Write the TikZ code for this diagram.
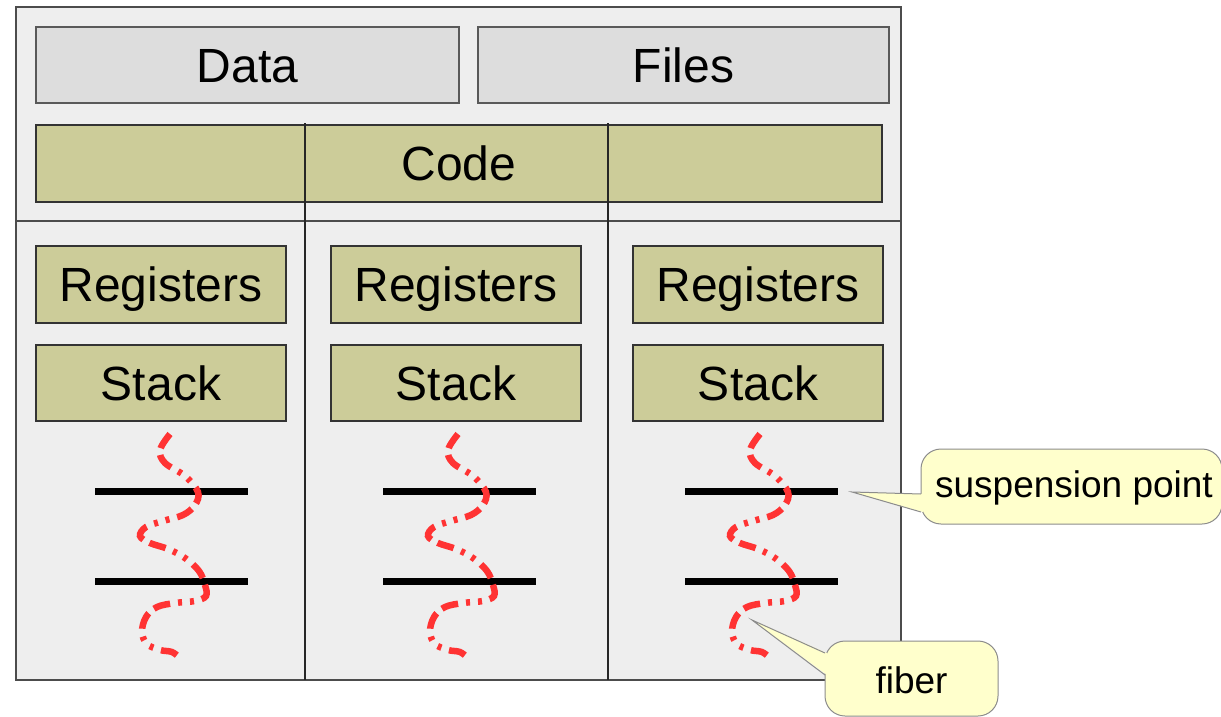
\documentclass[tikz,border=0pt]{standalone}
\usepackage{fontspec}
\setmainfont{Liberation Sans}
\definecolor{procbg}{HTML}{EEEEEE}
\definecolor{sharedbg}{HTML}{DDDDDD}
\definecolor{olivebg}{HTML}{CCCC99}
\definecolor{notebg}{HTML}{FFFFCC}
\definecolor{fiberred}{HTML}{FF3333}
\begin{document}
\begin{tikzpicture}[x=1pt,y=-1pt,
  bigtext/.style={font=\fontsize{48}{57}\selectfont,text height=34.4pt,text depth=0pt},
  smalltext/.style={font=\fontsize{37}{44}\selectfont},
  sharedbox/.style={draw=black!65,line width=1.2pt,fill=sharedbg,inner sep=0pt,bigtext},
  olivebox/.style={draw=black!80,line width=1.2pt,fill=olivebg,inner sep=0pt,bigtext},
  thinline/.style={draw=black!70,line width=1.2pt},
  bar/.style={line width=7pt,black},
  fiberline/.style={fiberred,line width=6.5pt,
    dash pattern=on 17pt off 7pt on 17pt off 8pt on 4pt off 8pt on 4pt off 8pt},
  note/.style={draw=black!45,line width=1pt,fill=notebg,rounded corners=20pt,
    inner sep=0pt,smalltext},
  notetail/.style={draw=black!45,line width=1pt},
]
\useasboundingbox (0,0) rectangle (1221,717);

% process area
\node[draw=black!70,line width=1.2pt,fill=procbg,minimum width=885pt,minimum height=673pt,inner sep=0pt]
  (proc) at (458.5,343.5) {};

% shared resources
\node[sharedbox,minimum width=423pt,minimum height=76pt] (data)  at (247.5,65) {Data};
\node[sharedbox,minimum width=411pt,minimum height=76pt] (files) at (683.5,65) {Files};
\node[olivebox,minimum width=846pt,minimum height=77pt] (code) at (459,163.5) {Code};

% separators between threads
\coordinate (sepL) at (16,221);
\coordinate (sepR) at (901,221);
\draw[thinline] (sepL) -- (sepR);
\coordinate (c1top) at (305,123);
\coordinate (c1bot) at (305,680);
\coordinate (c2top) at (608,123);
\coordinate (c2bot) at (608,680);
\draw[thinline,black!85] (c1top) -- (c1bot);
\draw[thinline,black!85] (c2top) -- (c2bot);

% per-thread registers, stack and fiber
\foreach \i/\dx in {1/0,2/295,3/597}{
  \node[olivebox,minimum width=250pt,minimum height=77pt] (reg\i) at (161+\dx,284.5) {Registers};
  \node[olivebox,minimum width=250pt,minimum height=76pt] (stack\i) at (161+\dx,383) {Stack};
}
\foreach \i/\dx in {1/0,2/288,3/590}{
  \begin{scope}[xshift=\dx]
    \coordinate (barA\i w) at (95,491);
    \coordinate (barA\i e) at (248,491);
    \coordinate (barB\i w) at (95,581);
    \coordinate (barB\i e) at (248,581);
    \draw[bar] (barA\i w) -- (barA\i e);
    \draw[bar] (barB\i w) -- (barB\i e);
    \draw[fiberline] plot[smooth,tension=0.6] coordinates {
      (170,434) (160,450) (165,463) (185,476) (198,492) (195,505) (183,515)
      (163,521) (146,527) (140,536) (150,543) (168,549) (185,558) (199,571)
      (205,585) (206,596) (195,601) (175,603) (157,607) (146,617) (142,632)
      (147,644) (160,650) (172,652) (180,658)};
  \end{scope}
}

% callout: suspension point
\node[note,minimum width=301pt,minimum height=75pt] (susp) at (1071.5,486.5) {};
\node[smalltext,anchor=center] (susptext) at (1074,488) {suspension point};
\coordinate (susptip) at (852,492);
\coordinate (suspA) at (921,494);
\coordinate (suspB) at (921,512);
\fill[notebg] (susptip) -- ([xshift=2pt]suspA) -- ([xshift=2pt]suspB) -- cycle;
\draw[notetail] (suspA) -- (susptip) -- (suspB);

% callout: fiber
\node[note,minimum width=173pt,minimum height=75pt] (fib) at (911.5,678.5) {};
\node[smalltext,anchor=center] (fibtext) at (911.5,680) {fiber};
\coordinate (fibtip) at (752,620);
\coordinate (fibA) at (825,653);
\coordinate (fibB) at (825,675);
\fill[notebg] (fibtip) -- ([xshift=2pt]fibA) -- ([xshift=2pt]fibB) -- cycle;
\draw[notetail] (fibA) -- (fibtip) -- (fibB);
\end{tikzpicture}
\end{document}
